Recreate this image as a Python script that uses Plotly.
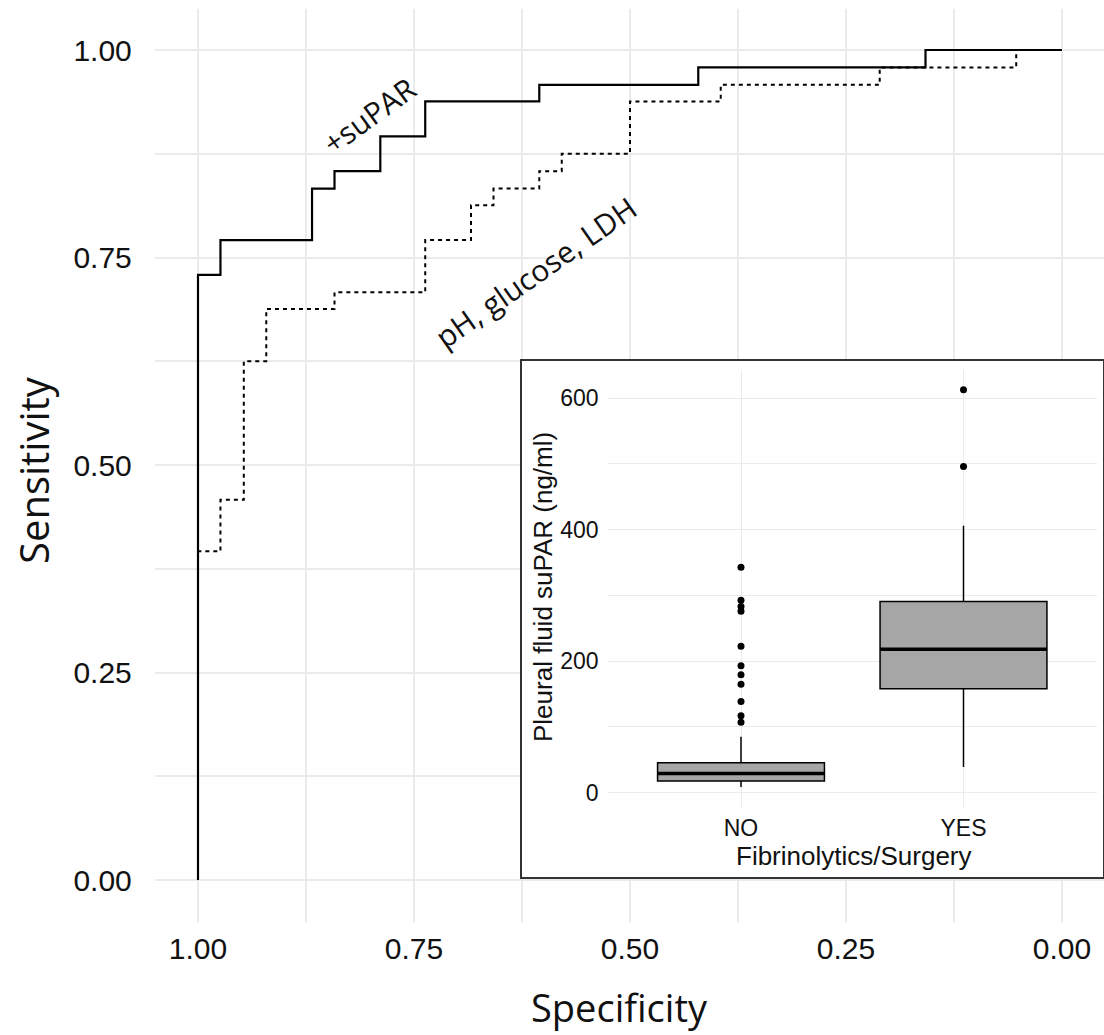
import plotly.graph_objects as go

# ---------------- data ----------------
# ROC curves (specificity, sensitivity) at each step corner
spec_supar = [1.0, 1.0, 0.974, 0.868, 0.842, 0.789, 0.737, 0.605, 0.421, 0.158, 0.0]
sens_supar = [0.0, 0.729, 0.771, 0.833, 0.854, 0.896, 0.938, 0.958, 0.979, 1.0, 1.0]

spec_base = [1.0, 1.0, 0.974, 0.947, 0.921, 0.842, 0.737, 0.684, 0.658, 0.605, 0.579,
             0.5, 0.395, 0.211, 0.053, 0.0]
sens_base = [0.0, 0.396, 0.458, 0.625, 0.688, 0.708, 0.771, 0.813, 0.833, 0.854, 0.875,
             0.938, 0.958, 0.979, 1.0, 1.0]

label_supar = "+suPAR"
label_base = "pH, glucose, LDH"

# Inset box plot
box_categories = ["NO", "YES"]
box_q1 = [17.8, 158.0]
box_median = [29.0, 218.0]
box_q3 = [45.4, 290.6]
box_lower = [8.7, 39.0]
box_upper = [85.0, 406.0]
outliers_no = [343, 292.6, 283, 276, 222.8, 193, 179.4, 165, 138.7, 117, 107]
outliers_yes = [613, 496]

main_ticks = [0.0, 0.25, 0.5, 0.75, 1.0]

# ---------------- layout helpers ----------------
W, H = 1104, 1035
def fx(p):
    return p / W
def fy(p):
    return 1 - p / H

BOX_W = 0.75
positions = [i + 1 for i in range(len(box_categories))]

fig = go.Figure()

# main ROC curves
fig.add_trace(go.Scatter(
    x=spec_base, y=sens_base, mode="lines", line_shape="hv",
    line=dict(color="black", width=2, dash="4px,4px"),
    xaxis="x", yaxis="y", hoverinfo="skip"))
fig.add_trace(go.Scatter(
    x=spec_supar, y=sens_supar, mode="lines", line_shape="hv",
    line=dict(color="black", width=2.2),
    xaxis="x", yaxis="y", hoverinfo="skip"))

# inset frame (empty subplot used as white background + border)
fig.add_trace(go.Scatter(x=[], y=[], xaxis="x2", yaxis="y2", hoverinfo="skip"))

# inset boxes
fig.add_trace(go.Box(
    x=positions, q1=box_q1, median=box_median, q3=box_q3,
    lowerfence=box_lower, upperfence=box_upper,
    width=BOX_W, whiskerwidth=0, boxpoints=False,
    fillcolor="#a6a6a6", line=dict(color="black", width=1.5),
    xaxis="x3", yaxis="y3", hoverinfo="skip"))

# thick median lines
mx, my = [], []
for p, m in zip(positions, box_median):
    mx += [p - BOX_W / 2, p + BOX_W / 2, None]
    my += [m, m, None]
fig.add_trace(go.Scatter(x=mx, y=my, mode="lines",
                         line=dict(color="black", width=3.5),
                         xaxis="x3", yaxis="y3", hoverinfo="skip"))

# outliers
ox = [positions[0]] * len(outliers_no) + [positions[1]] * len(outliers_yes)
oy = outliers_no + outliers_yes
fig.add_trace(go.Scatter(x=ox, y=oy, mode="markers",
                         marker=dict(color="black", size=7),
                         xaxis="x3", yaxis="y3", hoverinfo="skip"))

grid = "#ebebeb"
tick_font_main = dict(family="Liberation Sans, Arial, sans-serif", size=30, color="#111111")
tick_font_inset = dict(family="Liberation Sans, Arial, sans-serif", size=23, color="#111111")

fig.update_layout(
    width=W, height=H,
    margin=dict(l=0, r=0, t=0, b=0),
    paper_bgcolor="white", plot_bgcolor="white",
    showlegend=False,
    xaxis=dict(domain=[fx(154.8), 1.0], range=[1.05, -0.0486], anchor="y",
               tickmode="array", tickvals=main_ticks,
               ticktext=[f"{v:.2f}" for v in main_ticks],
               showgrid=True, gridcolor=grid, gridwidth=2,
               minor=dict(dtick=0.125, tick0=0, showgrid=True, gridcolor=grid, gridwidth=2),
               zeroline=False, showline=False, ticks="",
               tickfont=tick_font_main, ticklabelstandoff=6),
    yaxis=dict(domain=[fy(921.5), fy(8.5)], range=[-0.05, 1.05], anchor="x",
               tickmode="array", tickvals=main_ticks,
               ticktext=[f"{v:.2f}" for v in main_ticks],
               showgrid=True, gridcolor=grid, gridwidth=2,
               minor=dict(dtick=0.125, tick0=0, showgrid=True, gridcolor=grid, gridwidth=2),
               zeroline=False, showline=False, ticks="",
               tickfont=tick_font_main, ticklabelstandoff=22),
    xaxis2=dict(domain=[fx(521.5), fx(1103)], range=[0, 1], anchor="y2",
                showgrid=False, zeroline=False, showticklabels=False, ticks="",
                showline=True, mirror=True, linecolor="#333333", linewidth=1.5),
    yaxis2=dict(domain=[fy(877), fy(360.5)], range=[0, 1], anchor="x2",
                showgrid=False, zeroline=False, showticklabels=False, ticks="",
                showline=True, mirror=True, linecolor="#333333", linewidth=1.5),
    xaxis3=dict(domain=[fx(607.5), fx(1097)], range=[0.4, 2.6], anchor="y3",
                tickmode="array", tickvals=positions, ticktext=box_categories,
                showgrid=True, gridcolor=grid, gridwidth=1.2,
                zeroline=False, showline=False, ticks="",
                tickfont=tick_font_inset, ticklabelstandoff=5),
    yaxis3=dict(domain=[fy(807), fy(370)], range=[-21.9, 643], anchor="x3",
                tickmode="linear", tick0=0, dtick=200,
                showgrid=True, gridcolor=grid, gridwidth=1.2,
                minor=dict(dtick=100, tick0=0, showgrid=True, gridcolor=grid, gridwidth=1),
                zeroline=False, showline=False, ticks="",
                tickfont=tick_font_inset, ticklabelstandoff=8),
)

title_font_x = dict(family="Open Sans, sans-serif", size=38, color="#111111")
title_font_y = dict(family="Open Sans, sans-serif", size=40, color="#111111")
ann_font_a = dict(family="Open Sans, sans-serif", size=30, color="#111111")
ann_font_b = dict(family="Open Sans, sans-serif", size=30, color="#111111")
inset_title_font = dict(family="Liberation Sans, Arial, sans-serif", size=26, color="#111111")

annotations = [
    dict(text="Specificity", x=fx(619), y=fy(1007), font=title_font_x),
    dict(text="Sensitivity", x=fx(33), y=fy(470), font=title_font_y, textangle=-90),
    dict(text=label_supar, x=fx(369), y=fy(115), font=ann_font_a, textangle=-36),
    dict(text=label_base, x=fx(535), y=fy(272), font=ann_font_b, textangle=-35),
    dict(text="Fibrinolytics/Surgery", x=fx(854), y=fy(856), font=inset_title_font),
    dict(text="Pleural fluid suPAR (ng/ml)", x=fx(543), y=fy(587), font=inset_title_font,
         textangle=-90),
]
for a in annotations:
    a.update(xref="paper", yref="paper", xanchor="center", yanchor="middle",
             showarrow=False)
fig.update_layout(annotations=annotations)

fig.write_html("out.html", config={"displayModeBar": False},
               post_script="document.body.style.margin='0';document.body.style.padding='0';")
